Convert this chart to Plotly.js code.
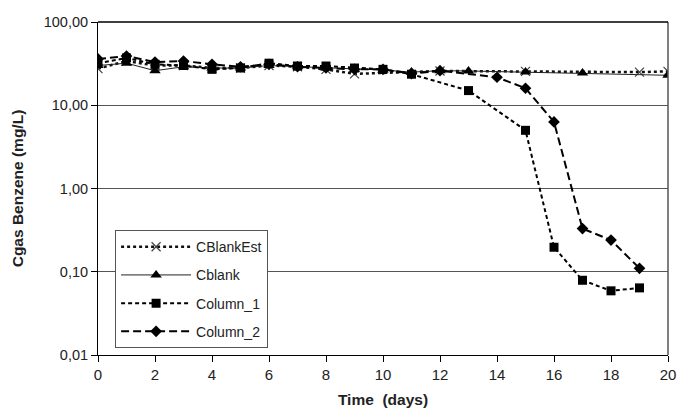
<!DOCTYPE html>
<html><head><meta charset="utf-8">
<script src="https://cdn.plot.ly/plotly-3.0.1.min.js"></script>
<style>body{margin:0;background:#fff}#c{width:682px;height:417px}</style>
</head><body><div id="c"></div>
<script>
var estDays = [0,1,2,3,4,5,6,7,8,9,12,15,19,20];
var estVals = [27.5,34,30,30,28,28,30,29,27,23.8,25.8,25.5,25,25.5];
var blankDays = [0,1,2,3,4,5,6,7,8,9,10,11,12,13,15,17,20];
var blankVals = [30,32,26,29,28,28,30,29,28,27,26.5,25,26,25.8,25,24.4,22.9];
var col1Days = [0,1,2,3,4,5,6,7,8,9,10,11,13,15,16,17,18,19];
var col1Vals = [32,37,31,30,27,28,32,29.6,29.6,28,27,23.6,15,5.0,0.197,0.079,0.059,0.064];
var col2Days = [0,1,2,3,4,5,6,7,8,9,10,11,12,14,15,16,17,18,19];
var col2Vals = [36,39,33,34,31,29,31,29,28,27,27,24,26,21.7,16,6.3,0.33,0.24,0.11];
var yTickVals = [0.01,0.1,1,10,100];
var yTickText = ['0,01','0,10','1,00','10,00','100,00'];

var traces = [
 {x:estDays,y:estVals,name:'CBlankEst',legendgroup:'a',mode:'lines+markers',
  line:{color:'#111',width:2.5,dash:'dot'},marker:{symbol:'x-thin',size:9,line:{color:'#444',width:1.2},color:'#444'}},
 {x:blankDays,y:blankVals,name:'Cblank',legendgroup:'b',mode:'lines+markers',
  line:{color:'#222',width:1},marker:{symbol:'triangle-up',size:10,color:'#000'}},
 {x:col1Days,y:col1Vals,name:'Column_1',legendgroup:'c',mode:'lines+markers',
  line:{color:'#000',width:2,dash:'4px,3px'},marker:{symbol:'square',size:9,color:'#000'}},
 {x:col2Days,y:col2Vals,name:'Column_2',legendgroup:'d',mode:'lines+markers',
  line:{color:'#000',width:2,dash:'8px,4px'},marker:{symbol:'diamond',size:9,color:'#000'}}
];
var layout = {
 width:682,height:417,paper_bgcolor:'#fff',plot_bgcolor:'#fff',
 margin:{l:98,r:14,t:22,b:62},
 font:{family:'Liberation Sans, Arial, sans-serif',size:14,color:'#222'},
 showlegend:true,
 legend:{x:0.03,y:0.375,xanchor:'left',yanchor:'top',bgcolor:'#fff',bordercolor:'#555',borderwidth:1,
   font:{size:14,color:'#222'},traceorder:'grouped',tracegroupgap:7,itemwidth:70},
 xaxis:{range:[0,20],tickvals:[0,2,4,6,8,10,12,14,16,18,20],ticks:'outside',ticklen:6,tickcolor:'#000',
   showline:true,linecolor:'#000',linewidth:1,mirror:false,showgrid:false,zeroline:false,
   title:{text:'<b>Time  (days)</b>',font:{size:15.5,color:'#222'},standoff:12},tickfont:{size:15}},
 yaxis:{type:'log',range:[-2,2],tickvals:yTickVals,ticktext:yTickText,ticks:'outside',ticklen:6,tickcolor:'#000',
   showline:true,linecolor:'#000',linewidth:1,showgrid:true,gridcolor:'#555',gridwidth:1,zeroline:false,
   title:{text:'<b>Cgas Benzene (mg/L)</b>',font:{size:15.5,color:'#222'},standoff:16},tickfont:{size:14.5}},
 shapes:[
  {type:'line',xref:'paper',yref:'paper',x0:1,x1:1,y0:0,y1:1,line:{color:'#555',width:1.5}},
  {type:'line',xref:'paper',yref:'paper',x0:0,x1:1,y0:1,y1:1,line:{color:'#000',width:1.5}}
 ]
};
Plotly.newPlot('c',traces,layout,{displayModeBar:false,staticPlot:true});
</script></body></html>
